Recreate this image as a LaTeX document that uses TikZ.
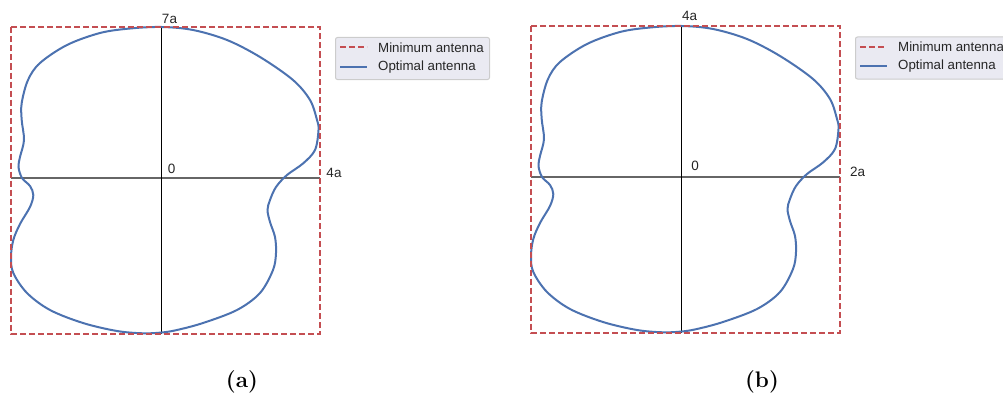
\documentclass[tikz,border=0pt]{standalone}
\usepackage{fontspec}
\newfontfamily\lsans{Liberation Sans}
\definecolor{minred}{HTML}{C44E52}
\definecolor{optblue}{HTML}{4C72B0}
\definecolor{legfill}{HTML}{EAEAF2}
\definecolor{legedge}{HTML}{CCCCCC}
\definecolor{txtgray}{HTML}{262626}
\tikzset{
  minline/.style={draw=minred, line width=2pt, dash pattern=on 6pt off 3pt},
  optline/.style={draw=optblue, line width=2pt},
  vaxis/.style={draw=black, line width=1.2pt},
  haxis/.style={draw=black!60, line width=1.8pt},
  axlabel/.style={font=\lsans\fontsize{13.5}{15}\selectfont, text=txtgray, inner sep=0pt},
  legtext/.style={font=\lsans\fontsize{13.3}{15}\selectfont, text=txtgray, inner sep=0pt, anchor=west},
  legbox/.style={fill=legfill, draw=legedge, line width=1pt, rounded corners=2pt},
  captext/.style={font=\rmfamily\bfseries\fontsize{22.5}{26}\selectfont, inner sep=0pt},
  pics/antshape/.style={code={
    \draw[optline] plot[smooth cycle, tension=0.55] coordinates {
      (161.7,27) (193,30) (227,40) (260,57) (293,80) (310,100) (317,120)
      (318.5,130) (315,150) (303,163.5) (287,175) (276,187) (270,200)
      (267.5,210) (270,222) (275,237) (276,253) (273,270) (260,293)
      (237,310) (203,323) (177,330) (161.7,332.5) (143,333.3) (117,331)
      (83,323) (50,310) (27,293) (13.3,273) (11,257) (13.3,240) (20,224)
      (30,207) (33.3,195) (30,186) (22,178) (18.5,167) (20,157) (24,140)
      (21.7,120) (21.7,103) (28,80) (40,63) (67,45) (100,33) (130,28.5)};
  }}
}
\begin{document}
\begin{tikzpicture}[x=1pt,y=-1pt]
\useasboundingbox (0,0) rectangle (1003,396);
\clip (0,0) rectangle (1003,396);
% ---------- panel (a) ----------
\coordinate (aTL) at (11,27.5);
\coordinate (aBR) at (320,333.5);
\coordinate (aVt) at (161.7,27.5);
\coordinate (aVb) at (161.7,333.5);
\coordinate (aHl) at (11,177.7);
\coordinate (aHr) at (320,177.7);
\draw[haxis] (aHl) -- (aHr);
\draw[vaxis] (aVt) -- (aVb);
\pic at (0,0) {antshape};
\draw[minline] (aTL) rectangle (aBR);
\node[axlabel] (a7) at (169.5,18.5) {7a};
\node[axlabel] (a0) at (171.7,169) {0};
\node[axlabel] (a4) at (334,173) {4a};
\node[legbox, minimum width=154pt, minimum height=42pt, anchor=north west] (aleg) at (335,37) {};
\coordinate (aL1a) at (340,47.2);
\coordinate (aL1b) at (367,47.2);
\coordinate (aL2a) at (340,66.7);
\coordinate (aL2b) at (367,66.7);
\draw[minline] (aL1a) -- (aL1b);
\draw[optline] (aL2a) -- (aL2b);
\node[legtext] (at1) at (378,47.5) {Minimum antenna};
\node[legtext] (at2) at (378,66.7) {Optimal antenna};
\node[captext] (acap) at (242,382) {(a)};
% ---------- panel (b) ----------
\coordinate (bTL) at (531,26.5);
\coordinate (bBR) at (840,332.5);
\coordinate (bVt) at (681.7,26.5);
\coordinate (bVb) at (681.7,332.5);
\coordinate (bHl) at (531,176.7);
\coordinate (bHr) at (840,176.7);
\draw[haxis] (bHl) -- (bHr);
\draw[vaxis] (bVt) -- (bVb);
\pic at (520,-1) {antshape};
\draw[minline] (bTL) rectangle (bBR);
\node[axlabel] (b4) at (689.5,16) {4a};
\node[axlabel] (b0) at (695,166) {0};
\node[axlabel] (b2) at (857.5,172) {2a};
\node[legbox, minimum width=154pt, minimum height=42pt, anchor=north west] (bleg) at (855,36.5) {};
\coordinate (bL1a) at (860,46.7);
\coordinate (bL1b) at (887,46.7);
\coordinate (bL2a) at (860,65.7);
\coordinate (bL2b) at (887,65.7);
\draw[minline] (bL1a) -- (bL1b);
\draw[optline] (bL2a) -- (bL2b);
\node[legtext] (bt1) at (898,46.7) {Minimum antenna};
\node[legtext] (bt2) at (898,65.7) {Optimal antenna};
\node[captext] (bcap) at (762,382) {(b)};
\end{tikzpicture}
\end{document}
